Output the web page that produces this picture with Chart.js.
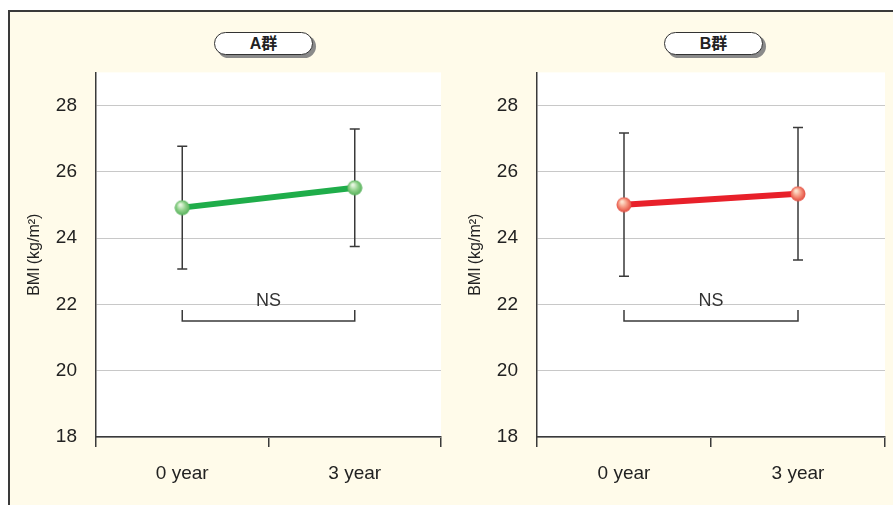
<!DOCTYPE html>
<html><head><meta charset="utf-8">
<script src="https://cdn.jsdelivr.net/npm/chart.js@4/dist/chart.umd.min.js"></script>
<style>
html,body{margin:0;padding:0;background:#fff;width:893px;height:505px;overflow:hidden;font-family:"Liberation Sans","Noto Sans CJK JP",sans-serif;}
#frame{position:absolute;left:8px;top:10px;width:900px;height:500px;border:2px solid #3a3a3a;background:#fffbea;box-sizing:border-box;}
.pill{position:absolute;top:32px;width:99px;height:23px;border:1.3px solid #333;border-radius:12px;background:#fff;box-shadow:3px 3px 0 #8a8a8a;box-sizing:border-box;display:flex;align-items:center;justify-content:center;font-weight:bold;font-size:16px;line-height:1;color:#222;}
.cw{position:absolute;top:42px;height:463px;}
</style></head><body>
<div id="frame"></div>
<div class="pill" style="left:214px;">A群</div>
<div class="pill" style="left:664px;">B群</div>
<div class="cw" style="left:10px;width:445px;"><canvas id="cA"></canvas></div>
<div class="cw" style="left:451px;width:448px;"><canvas id="cB"></canvas></div>
<script>
const categories = ['0 year', '3 year'];
const groupAMean = [24.92, 25.52];
const groupASD = [1.85, 1.77];
const groupBMean = [25.01, 25.34];
const groupBSD = [2.16, 2.0];
const yTicks = [18, 20, 22, 24, 26, 28];
const yMin = 18, yMax = 29;
const nsLabel = 'NS';
const nsLevel = 21.5;
const yTitle = 'BMI\u2009(kg/m²)';

function ballImage(light, mid, dark) {
  const c = document.createElement('canvas');
  c.width = 16; c.height = 16;
  const g = c.getContext('2d');
  const grad = g.createRadialGradient(6, 5, 1, 8, 8, 8);
  grad.addColorStop(0, light);
  grad.addColorStop(0.5, mid);
  grad.addColorStop(1, dark);
  g.fillStyle = grad;
  g.beginPath(); g.arc(8, 8, 7.5, 0, Math.PI * 2); g.fill();
  return c;
}

const whiteArea = {
  id: 'whiteArea',
  beforeDraw(chart) {
    const {ctx, chartArea: a} = chart;
    ctx.save(); ctx.fillStyle = '#ffffff';
    ctx.fillRect(a.left, a.top, a.right - a.left, a.bottom - a.top);
    ctx.restore();
  }
};

const errorBars = {
  id: 'errorBars',
  beforeDatasetsDraw(chart) {
    const {ctx} = chart;
    const xs = chart.scales.x, ys = chart.scales.y;
    const ds = chart.data.datasets[0];
    ctx.save();
    ctx.strokeStyle = '#3a3a3a'; ctx.lineWidth = 1.5;
    ds.data.forEach((v, i) => {
      const sd = ds.sd[i];
      const x = xs.getPixelForValue(i);
      const yt = ys.getPixelForValue(v + sd), yb = ys.getPixelForValue(v - sd);
      ctx.beginPath();
      ctx.moveTo(x, yt); ctx.lineTo(x, yb);
      ctx.moveTo(x - 5, yt); ctx.lineTo(x + 5, yt);
      ctx.moveTo(x - 5, yb); ctx.lineTo(x + 5, yb);
      ctx.stroke();
    });
    const x0 = xs.getPixelForValue(0), x1 = xs.getPixelForValue(1);
    const yb = ys.getPixelForValue(nsLevel);
    ctx.beginPath();
    ctx.moveTo(x0, yb - 11); ctx.lineTo(x0, yb); ctx.lineTo(x1, yb); ctx.lineTo(x1, yb - 11);
    ctx.stroke();
    ctx.fillStyle = '#333';
    ctx.font = '18px "Liberation Sans", sans-serif';
    ctx.textAlign = 'center'; ctx.textBaseline = 'middle';
    ctx.fillText(nsLabel, (x0 + x1) / 2, yb - 20);
    ctx.restore();
  }
};

function makeChart(id, mean, sd, lineColor, ball, padRight) {
  return new Chart(document.getElementById(id), {
    type: 'line',
    data: {
      labels: categories,
      datasets: [{
        data: mean, sd: sd,
        borderColor: lineColor, borderWidth: 6,
        pointStyle: ball, pointRadius: 8, pointHoverRadius: 8,
        tension: 0
      }]
    },
    options: {
      responsive: true, maintainAspectRatio: false, animation: false,
      events: [],
      layout: {padding: {top: 12, right: padRight, bottom: 0, left: 0}},
      plugins: {legend: {display: false}, tooltip: {enabled: false}},
      scales: {
        x: {
          offset: true,
          grid: {offset: true, drawOnChartArea: false, tickLength: 10, color: '#3a3a3a', lineWidth: 1.5},
          border: {color: '#3a3a3a', width: 1.5},
          ticks: {color: '#222', font: {family: '"Liberation Sans", sans-serif', size: 19}, padding: 15},
          afterFit(s) { s.height = 68; }
        },
        y: {
          min: yMin, max: yMax,
          afterBuildTicks(s) { s.ticks = yTicks.map(v => ({value: v})); },
          grid: {drawTicks: false, color: '#c8c8c8', lineWidth: 1},
          border: {color: '#3a3a3a', width: 1.5},
          ticks: {color: '#222', font: {family: '"Liberation Sans", sans-serif', size: 19}, padding: 19},
          title: {display: true, text: yTitle, color: '#222', font: {family: '"Liberation Sans", sans-serif', size: 16}, padding: {top: 15, bottom: 0}},
          afterFit(s) { s.width = 86; }
        }
      }
    },
    plugins: [whiteArea, errorBars]
  });
}

makeChart('cA', groupAMean, groupASD, '#1fad4a', ballImage('#e6f6e0', '#8fd08a', '#4fae55'), 9);
makeChart('cB', groupBMean, groupBSD, '#e8202a', ballImage('#fde0cc', '#f5907a', '#e0443a'), 8);
</script>
</body></html>
